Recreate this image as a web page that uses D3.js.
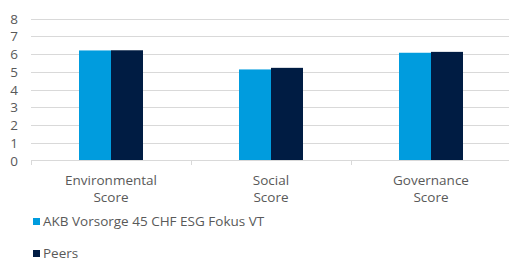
<!DOCTYPE html>
<html>
<head>
<meta charset="utf-8">
<script src="https://cdn.jsdelivr.net/npm/d3@7"></script>
<style>
  body { margin: 0; background: #fff; }
  svg text { font-family: "Open Sans", sans-serif; fill: #595959; }
</style>
</head>
<body>
<div id="viz_area"></div>
<script>
// chart data
var categories = [["Environmental", "Score"], ["Social", "Score"], ["Governance", "Score"]];
var seriesNames = ["AKB Vorsorge 45 CHF ESG Fokus VT", "Peers"];
var fundValues = [6.2, 5.13, 6.07];
var peerValues = [6.21, 5.22, 6.12];
var yTicks = [0, 1, 2, 3, 4, 5, 6, 7, 8];
var colors = ["#009cde", "#001c43"];

function drawChart() {
    var w = 509;
    var h = 260;

    var svg = d3.select("#viz_area")
                .append("svg")
                .attr("width", w)
                .attr("height", h);

    var x = d3.scaleBand()
              .domain(d3.range(categories.length))
              .range([31, 511]);

    var inner = d3.scaleBand()
                  .domain(d3.range(seriesNames.length))
                  .range([0, 64]);

    var y = d3.scaleLinear()
              .domain([0, 8])
              .range([160.5, 18.5]);

    // gridlines
    svg.selectAll("line.grid")
       .data(yTicks.slice(1))
       .enter()
       .append("line")
       .attr("class", "grid")
       .attr("x1", 31)
       .attr("x2", w)
       .attr("y1", (d) => Math.round(y(d)) + 0.5)
       .attr("y2", (d) => Math.round(y(d)) + 0.5)
       .style("stroke", "#d9d9d9")
       .style("stroke-width", 1);

    // y labels
    svg.selectAll("text.ylab")
       .data(yTicks)
       .enter()
       .append("text")
       .attr("class", "ylab")
       .attr("x", 18)
       .attr("y", (d) => y(d) + 5)
       .attr("text-anchor", "end")
       .style("font-size", "13.5px")
       .text((d) => d);

    // bars
    var series = [fundValues, peerValues];
    series.forEach(function(vals, s) {
        svg.selectAll("rect.s" + s)
           .data(vals)
           .enter()
           .append("rect")
           .attr("class", "s" + s)
           .attr("x", (d, i) => x(i) + x.bandwidth() / 2 - 32 + inner(s))
           .attr("y", (d) => y(d))
           .attr("width", inner.bandwidth())
           .attr("height", (d) => y(0) - y(d))
           .style("fill", colors[s]);
    });

    // x axis
    var xAxis = d3.axisBottom(x)
                  .tickSize(0)
                  .tickFormat("");
    var gx = svg.append("g")
                .attr("transform", "translate(0," + 160 + ")")
                .call(xAxis);
    gx.select(".domain").style("stroke", "#d9d9d9");

    var bounds = x.domain().map((d) => x(d)).concat([x.range()[1]]);
    svg.selectAll("line.xtick")
       .data(bounds)
       .enter()
       .append("line")
       .attr("class", "xtick")
       .attr("x1", (d) => Math.round(d) + 0.5)
       .attr("x2", (d) => Math.round(d) + 0.5)
       .attr("y1", 160)
       .attr("y2", 165)
       .style("stroke", "#d9d9d9");

    // category labels
    var labels = svg.selectAll("text.xlab")
       .data(categories)
       .enter()
       .append("text")
       .attr("class", "xlab")
       .attr("text-anchor", "middle")
       .style("font-size", "13.5px");
    labels.selectAll("tspan")
       .data((d, i) => d.map((t) => ({t: t, i: i})))
       .enter()
       .append("tspan")
       .attr("x", (d) => x(d.i) + x.bandwidth() / 2)
       .attr("y", (d, j) => 185 + j * 16.5)
       .text((d) => d.t);

    // legend
    var legend = svg.selectAll("g.legend")
       .data(seriesNames)
       .enter()
       .append("g")
       .attr("class", "legend")
       .attr("transform", (d, i) => "translate(33," + (218 + i * 32) + ")");
    legend.append("rect")
       .attr("width", 7)
       .attr("height", 7)
       .style("fill", (d, i) => colors[i]);
    legend.append("text")
       .attr("x", 10)
       .attr("y", 8.3)
       .style("font-size", "13.5px")
       .text((d) => d);
}

window.onload = drawChart;
</script>
</body>
</html>
